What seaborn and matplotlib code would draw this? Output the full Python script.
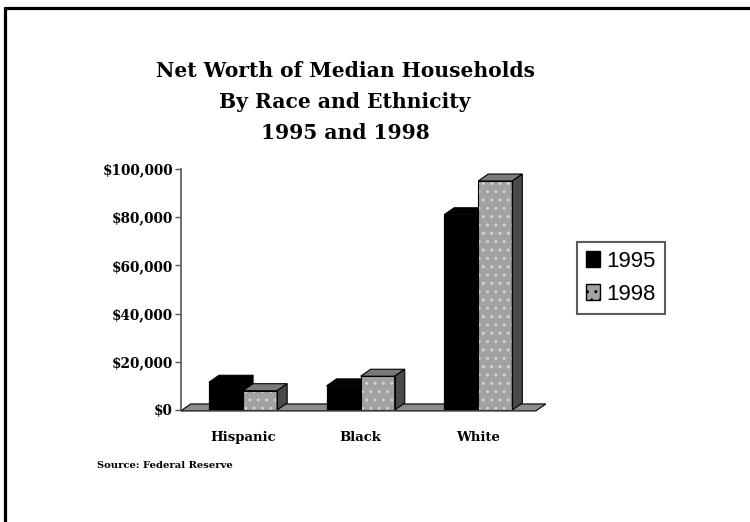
import matplotlib
matplotlib.use("Agg")
import matplotlib.pyplot as plt
import seaborn as sns
import pandas as pd
from matplotlib.patches import Polygon, Rectangle, Patch
from matplotlib.lines import Line2D

# ---- data ----
categories = ["Hispanic", "Black", "White"]
years = ["1995", "1998"]
values_1995 = [11500, 10000, 81000]
values_1998 = [8000, 14000, 95000]
y_ticks = [0, 20000, 40000, 60000, 80000, 100000]
y_tick_labels = ["$0", "$20,000", "$40,000", "$60,000", "$80,000", "$100,000"]
title_lines = ["Net Worth of Median Households", "By Race and Ethnicity", "1995 and 1998"]
source_text = "Source: Federal Reserve"

df = pd.DataFrame({
    "category": categories * 2,
    "year": [years[0]] * 3 + [years[1]] * 3,
    "value": values_1995 + values_1998,
})

sns.set_theme(style="white")
plt.rcParams["hatch.linewidth"] = 1.0
plt.rcParams["text.color"] = "black"

fig = plt.figure(figsize=(7.5, 5.22), dpi=100)
ax = fig.add_axes([0.241, 0.2146, 0.486, 0.4617])

front_colors = {"1995": "black", "1998": "#a2a2a2"}
sns.barplot(data=df, x="category", y="value", hue="year", order=categories,
            hue_order=years, palette=front_colors, width=0.58, gap=0,
            legend=False, ax=ax, saturation=1)

ax.set_xlim(-0.53, 2.57)
ax.set_ylim(0, 100000)

dx, dy = 0.085, 2900

# floor
xl, xr = -0.53, 2.49
floor = Polygon([(xl, -400), (xl + dx, dy - 400), (xr + dx, dy - 400), (xr, -400)],
                closed=True, facecolor="#8c8c8c", edgecolor="black", lw=0.8,
                zorder=1, clip_on=False)
ax.add_patch(floor)

styles = {
    0: dict(front_z=3, face_z=2.5, top="black", side="black", hatch=None),
    1: dict(front_z=4, face_z=4, top="#7a7a7a", side="#4a4a4a", hatch=".."),
}
for i, cont in enumerate(ax.containers):
    st = styles[i]
    for bar in cont:
        x0 = bar.get_x()
        w = bar.get_width()
        h = bar.get_height()
        bar.set_zorder(st["front_z"])
        if st["hatch"]:
            bar.set_hatch(st["hatch"])
            bar.set_edgecolor("#d4d4d4")
            bar.set_linewidth(0)
        else:
            bar.set_edgecolor("black")
            bar.set_linewidth(0.8)
        ax.add_patch(Rectangle((x0, 0), w, h, fill=False, edgecolor="black",
                               lw=0.8, zorder=st["front_z"] + 0.05))
        top = Polygon([(x0, h), (x0 + dx, h + dy), (x0 + w + dx, h + dy), (x0 + w, h)],
                      closed=True, facecolor=st["top"], edgecolor="black", lw=0.8,
                      zorder=st["face_z"])
        side = Polygon([(x0 + w, 0), (x0 + w + dx, dy), (x0 + w + dx, h + dy), (x0 + w, h)],
                       closed=True, facecolor=st["side"], edgecolor="black", lw=0.8,
                       zorder=st["face_z"])
        ax.add_patch(top)
        ax.add_patch(side)

# axes styling
for s in ["top", "right", "bottom"]:
    ax.spines[s].set_visible(False)
ax.spines["left"].set_color("#555555")
ax.spines["left"].set_linewidth(1.2)
ax.set_yticks(y_ticks)
ax.set_yticklabels(y_tick_labels, fontfamily="DejaVu Serif", fontweight="bold",
                   fontsize=9.8, color="black")
ax.tick_params(axis="y", direction="out", length=4, width=1, color="#555555", pad=1.5, left=True)
ax.set_xticks(range(len(categories)))
ax.set_xticklabels(categories, fontfamily="DejaVu Serif", fontweight="bold",
                   fontsize=9.5, color="black")
ax.tick_params(axis="x", length=0, pad=15)
ax.set_xlabel("")
ax.set_ylabel("")
ax.patch.set_alpha(0)

# title
for k, line in enumerate(title_lines):
    fig.text(0.46, 0.864 - k * 0.059, line, ha="center", va="center", color="black",
             fontfamily="DejaVu Serif", fontweight="bold", fontsize=14.6)

# legend
handles = [Patch(facecolor="black", edgecolor="black", label=years[0]),
           Patch(facecolor="#a2a2a2", edgecolor="black", hatch="..", label=years[1])]
leg = fig.legend(handles=handles, loc="center left", bbox_to_anchor=(0.769, 0.468),
                 frameon=True, fancybox=False, prop={"family": "Liberation Sans", "size": 16},
                 handlelength=0.65, handleheight=0.75, handletextpad=0.3,
                 borderpad=0.4, labelspacing=0.55, borderaxespad=0)
leg.get_frame().set_edgecolor("#333333")
leg.get_frame().set_linewidth(1.5)

# source
fig.text(97 / 750, 1 - 466 / 522, source_text, ha="left", va="center", color="black",
         fontfamily="DejaVu Serif", fontweight="bold", fontsize=7.2)

# outer border (top and left)
fig.add_artist(Line2D([4.5 / 750, 1.0], [1 - 7.5 / 522, 1 - 7.5 / 522],
                      transform=fig.transFigure, color="black", lw=2.3))
fig.add_artist(Line2D([4.5 / 750, 4.5 / 750], [0, 1 - 7.5 / 522],
                      transform=fig.transFigure, color="black", lw=2.3))

fig.savefig("out.png", dpi=100, facecolor="white")
